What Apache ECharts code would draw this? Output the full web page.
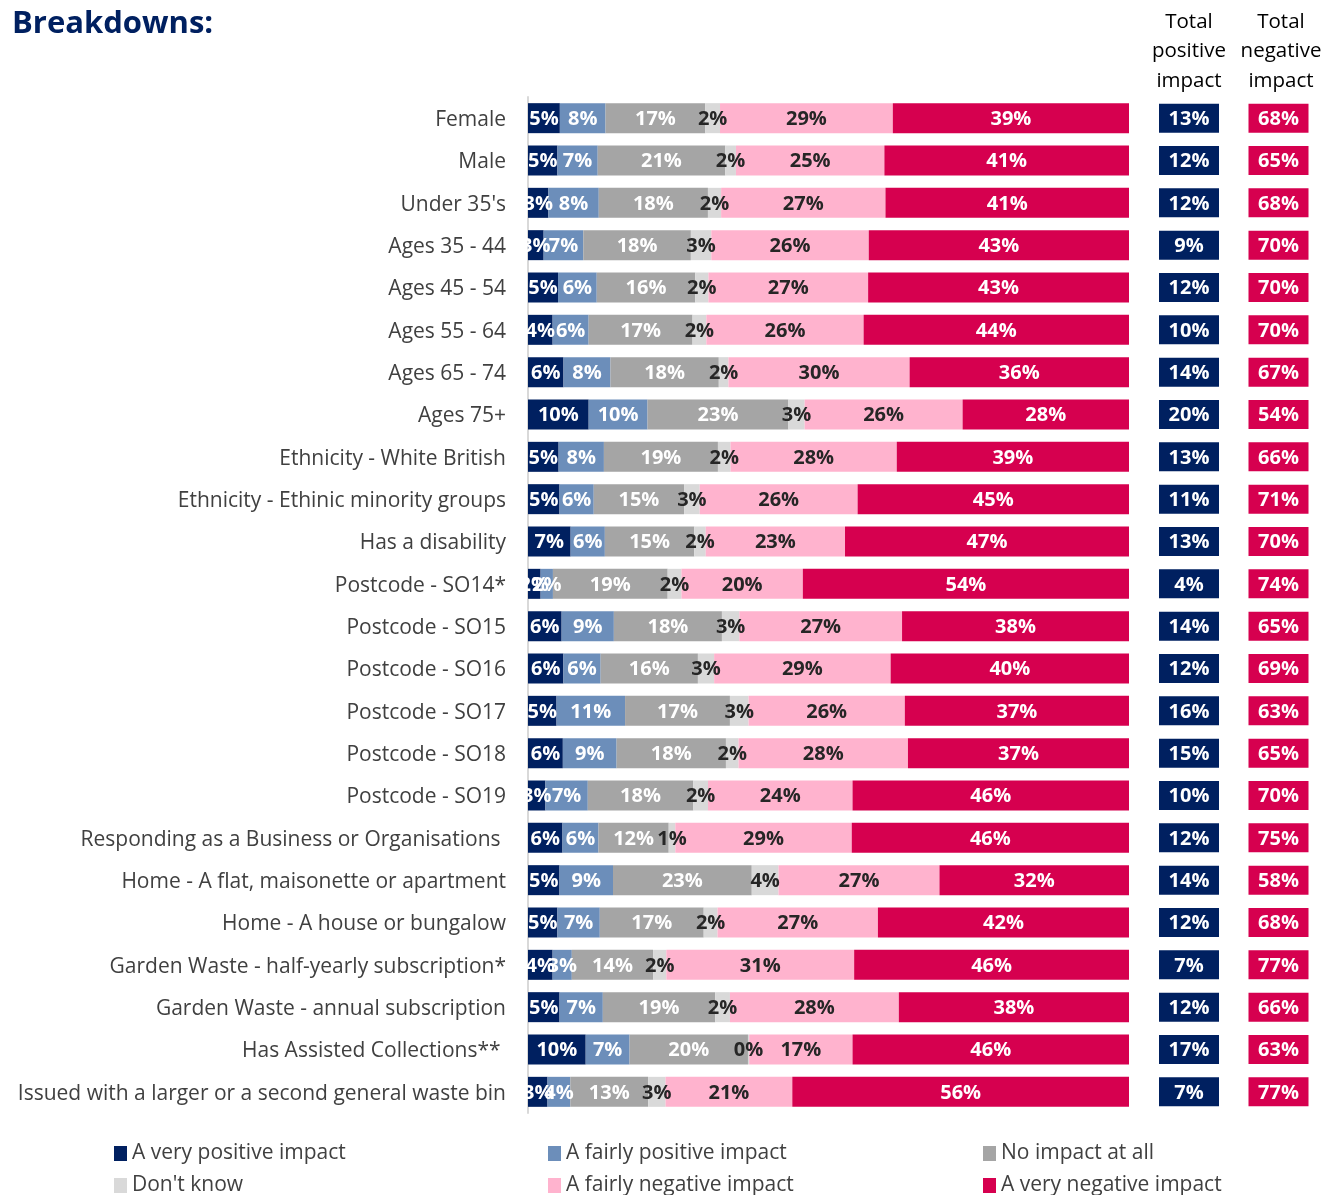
<!DOCTYPE html>
<html><head><meta charset="utf-8">
<script src="https://cdn.jsdelivr.net/npm/echarts@6/dist/echarts.min.js"></script>
<style>html,body{margin:0;padding:0;background:#fff}#c{width:1324px;height:1195px}</style>
</head><body><div id="c"></div>
<script>
const categories = ["Female","Male","Under 35's","Ages 35 - 44","Ages 45 - 54","Ages 55 - 64","Ages 65 - 74","Ages 75+","Ethnicity - White British","Ethnicity - Ethinic minority groups","Has a disability","Postcode - SO14*","Postcode - SO15","Postcode - SO16","Postcode - SO17","Postcode - SO18","Postcode - SO19","Responding as a Business or Organisations ","Home - A flat, maisonette or apartment","Home - A house or bungalow","Garden Waste - half-yearly subscription*","Garden Waste - annual subscription","Has Assisted Collections** ","Issued with a larger or a second general waste bin"];
const seriesNames = ["A very positive impact","A fairly positive impact","No impact at all","Don't know","A fairly negative impact","A very negative impact"];
const veryPositive   = [5.3,4.9,3.4,2.6,5.0,4.1,5.9,10.1,5.1,5.25,7.1,2.1,5.6,5.9,4.75,5.8,2.9,5.75,5.25,4.9,4.1,5.25,9.6,3.25];
const fairlyPositive = [7.6,6.7,8.4,6.6,6.45,6.0,7.8,9.8,7.55,5.7,5.7,2.05,8.7,6.2,11.4,8.95,7.05,6.0,8.9,7.05,3.2,7.2,7.3,3.8];
const noImpact       = [16.6,21.2,18.2,17.9,16.4,17.3,18.0,23.45,19.0,15.05,14.9,19.1,18.0,16.2,17.45,18.2,17.55,11.7,23.1,17.3,13.55,18.7,19.7,12.95];
const dontKnow       = [2.45,1.8,2.2,3.4,2.2,2.3,1.6,2.7,2.1,2.6,1.9,2.3,2.9,2.7,3.1,2.1,2.45,1.1,4.45,2.3,2.2,2.45,0.2,2.9];
const fairlyNegative = [28.75,24.7,27.4,26.2,26.6,26.2,30.1,26.3,27.7,26.3,23.2,20.2,27.1,29.4,26.0,28.2,24.05,29.4,26.8,26.7,31.3,28.1,17.2,21.1];
const veryNegative   = [39.3,40.7,40.6,43.3,43.45,44.2,36.45,27.7,38.7,45.2,47.3,54.3,37.8,39.7,37.3,36.8,46.0,46.2,31.55,41.8,45.8,38.3,46.0,56.05];
const totalPositive  = [13,12,12,9,12,10,14,20,13,11,13,4,14,12,16,15,10,12,14,12,7,12,17,7];
const totalNegative  = [68,65,68,70,70,70,67,54,66,71,70,74,65,69,63,65,70,75,58,68,77,66,63,77];

const colors = ["#002060","#6C8EBA","#A5A5A5","#D9D9D9","#FFB3CE","#D6004F"];
const labelColors = ["#fff","#fff","#fff","#262626","#262626","#fff"];
const FONT = "Open Sans";
const allSeries = [veryPositive,fairlyPositive,noImpact,dontKnow,fairlyNegative,veryNegative];
const rowTotals = categories.map((_, i) => allSeries.reduce((s, a) => s + a[i], 0));

const chart = echarts.init(document.getElementById('c'), null, {renderer:'canvas'});
const gridTop = 97, gridHeight = 1016;

const barSeries = allSeries.map((arr, k) => ({
  name: seriesNames[k], type: 'bar', stack: 'all', xAxisIndex: 0, yAxisIndex: 0,
  barWidth: 30,
  itemStyle: {color: colors[k]},
  label: {show: true, position: 'inside', offset: [0, 1], color: labelColors[k], fontFamily: FONT, fontWeight: 'bold', fontSize: 20,
    formatter: p => Math.round(p.data.raw) + '%'},
  data: arr.map((v, i) => ({value: v / rowTotals[i] * 100, raw: v}))
}));

const boxSeries = (arr, idx, color) => ({
  name: 'box' + idx, type: 'scatter', xAxisIndex: idx, yAxisIndex: idx,
  symbol: 'rect', symbolSize: [60, 29], itemStyle: {color: color, opacity: 1},
  label: {show: true, position: 'inside', offset: [0, 1], color: '#fff', fontFamily: FONT, fontWeight: 'bold', fontSize: 20,
    formatter: p => p.data[2] + '%'},
  data: arr.map((v, i) => [0, i, v])
});

const legendPos = [[114,1143],[548,1143],[983,1143],[114,1175],[548,1175],[983,1175]];

chart.setOption({
  animation: false,
  textStyle: {fontFamily: FONT},
  title: {text: 'Breakdowns:', left: 12, top: 9, padding: 0,
    textStyle: {fontFamily: FONT, fontWeight: 'bold', fontSize: 31, color: '#002060'}},
  graphic: [
    {type: 'text', x: 1189, y: 7, style: {text: 'Total\npositive\nimpact', align: 'center', font: '20.5px "Open Sans"', lineHeight: 29.5, fill: '#000'}},
    {type: 'text', x: 1281, y: 7, style: {text: 'Total\nnegative\nimpact', align: 'center', font: '20.5px "Open Sans"', lineHeight: 29.5, fill: '#000'}}
  ],
  legend: legendPos.map((p, k) => ({
    data: [seriesNames[k]], left: p[0], top: p[1], padding: 0,
    icon: 'rect', itemWidth: 13, itemHeight: 15,
    textStyle: {fontFamily: FONT, fontSize: 21, color: '#404040'}, selectedMode: false
  })),
  grid: [
    {left: 528, right: 195, top: gridTop, height: gridHeight},
    {left: 1159, width: 60, top: gridTop, height: gridHeight},
    {left: 1248, width: 61, top: gridTop, height: gridHeight}
  ],
  xAxis: [
    {type: 'value', gridIndex: 0, min: 0, max: 100, show: false},
    {type: 'category', gridIndex: 1, data: [''], show: false},
    {type: 'category', gridIndex: 2, data: [''], show: false}
  ],
  yAxis: [
    {type: 'category', gridIndex: 0, data: categories, inverse: true,
      axisLine: {show: true, lineStyle: {color: '#D9D9D9', width: 2}}, axisTick: {show: false},
      axisLabel: {margin: 22, formatter: v => '{a|' + v + '}',
        rich: {a: {fontFamily: FONT, fontSize: 21, color: '#404040', padding: [4, 0, 0, 0]}}}},
    {type: 'category', gridIndex: 1, data: categories, inverse: true, show: false},
    {type: 'category', gridIndex: 2, data: categories, inverse: true, show: false}
  ],
  series: barSeries.concat([boxSeries(totalPositive, 1, '#002060'), boxSeries(totalNegative, 2, '#D6004F')])
});
</script></body></html>
